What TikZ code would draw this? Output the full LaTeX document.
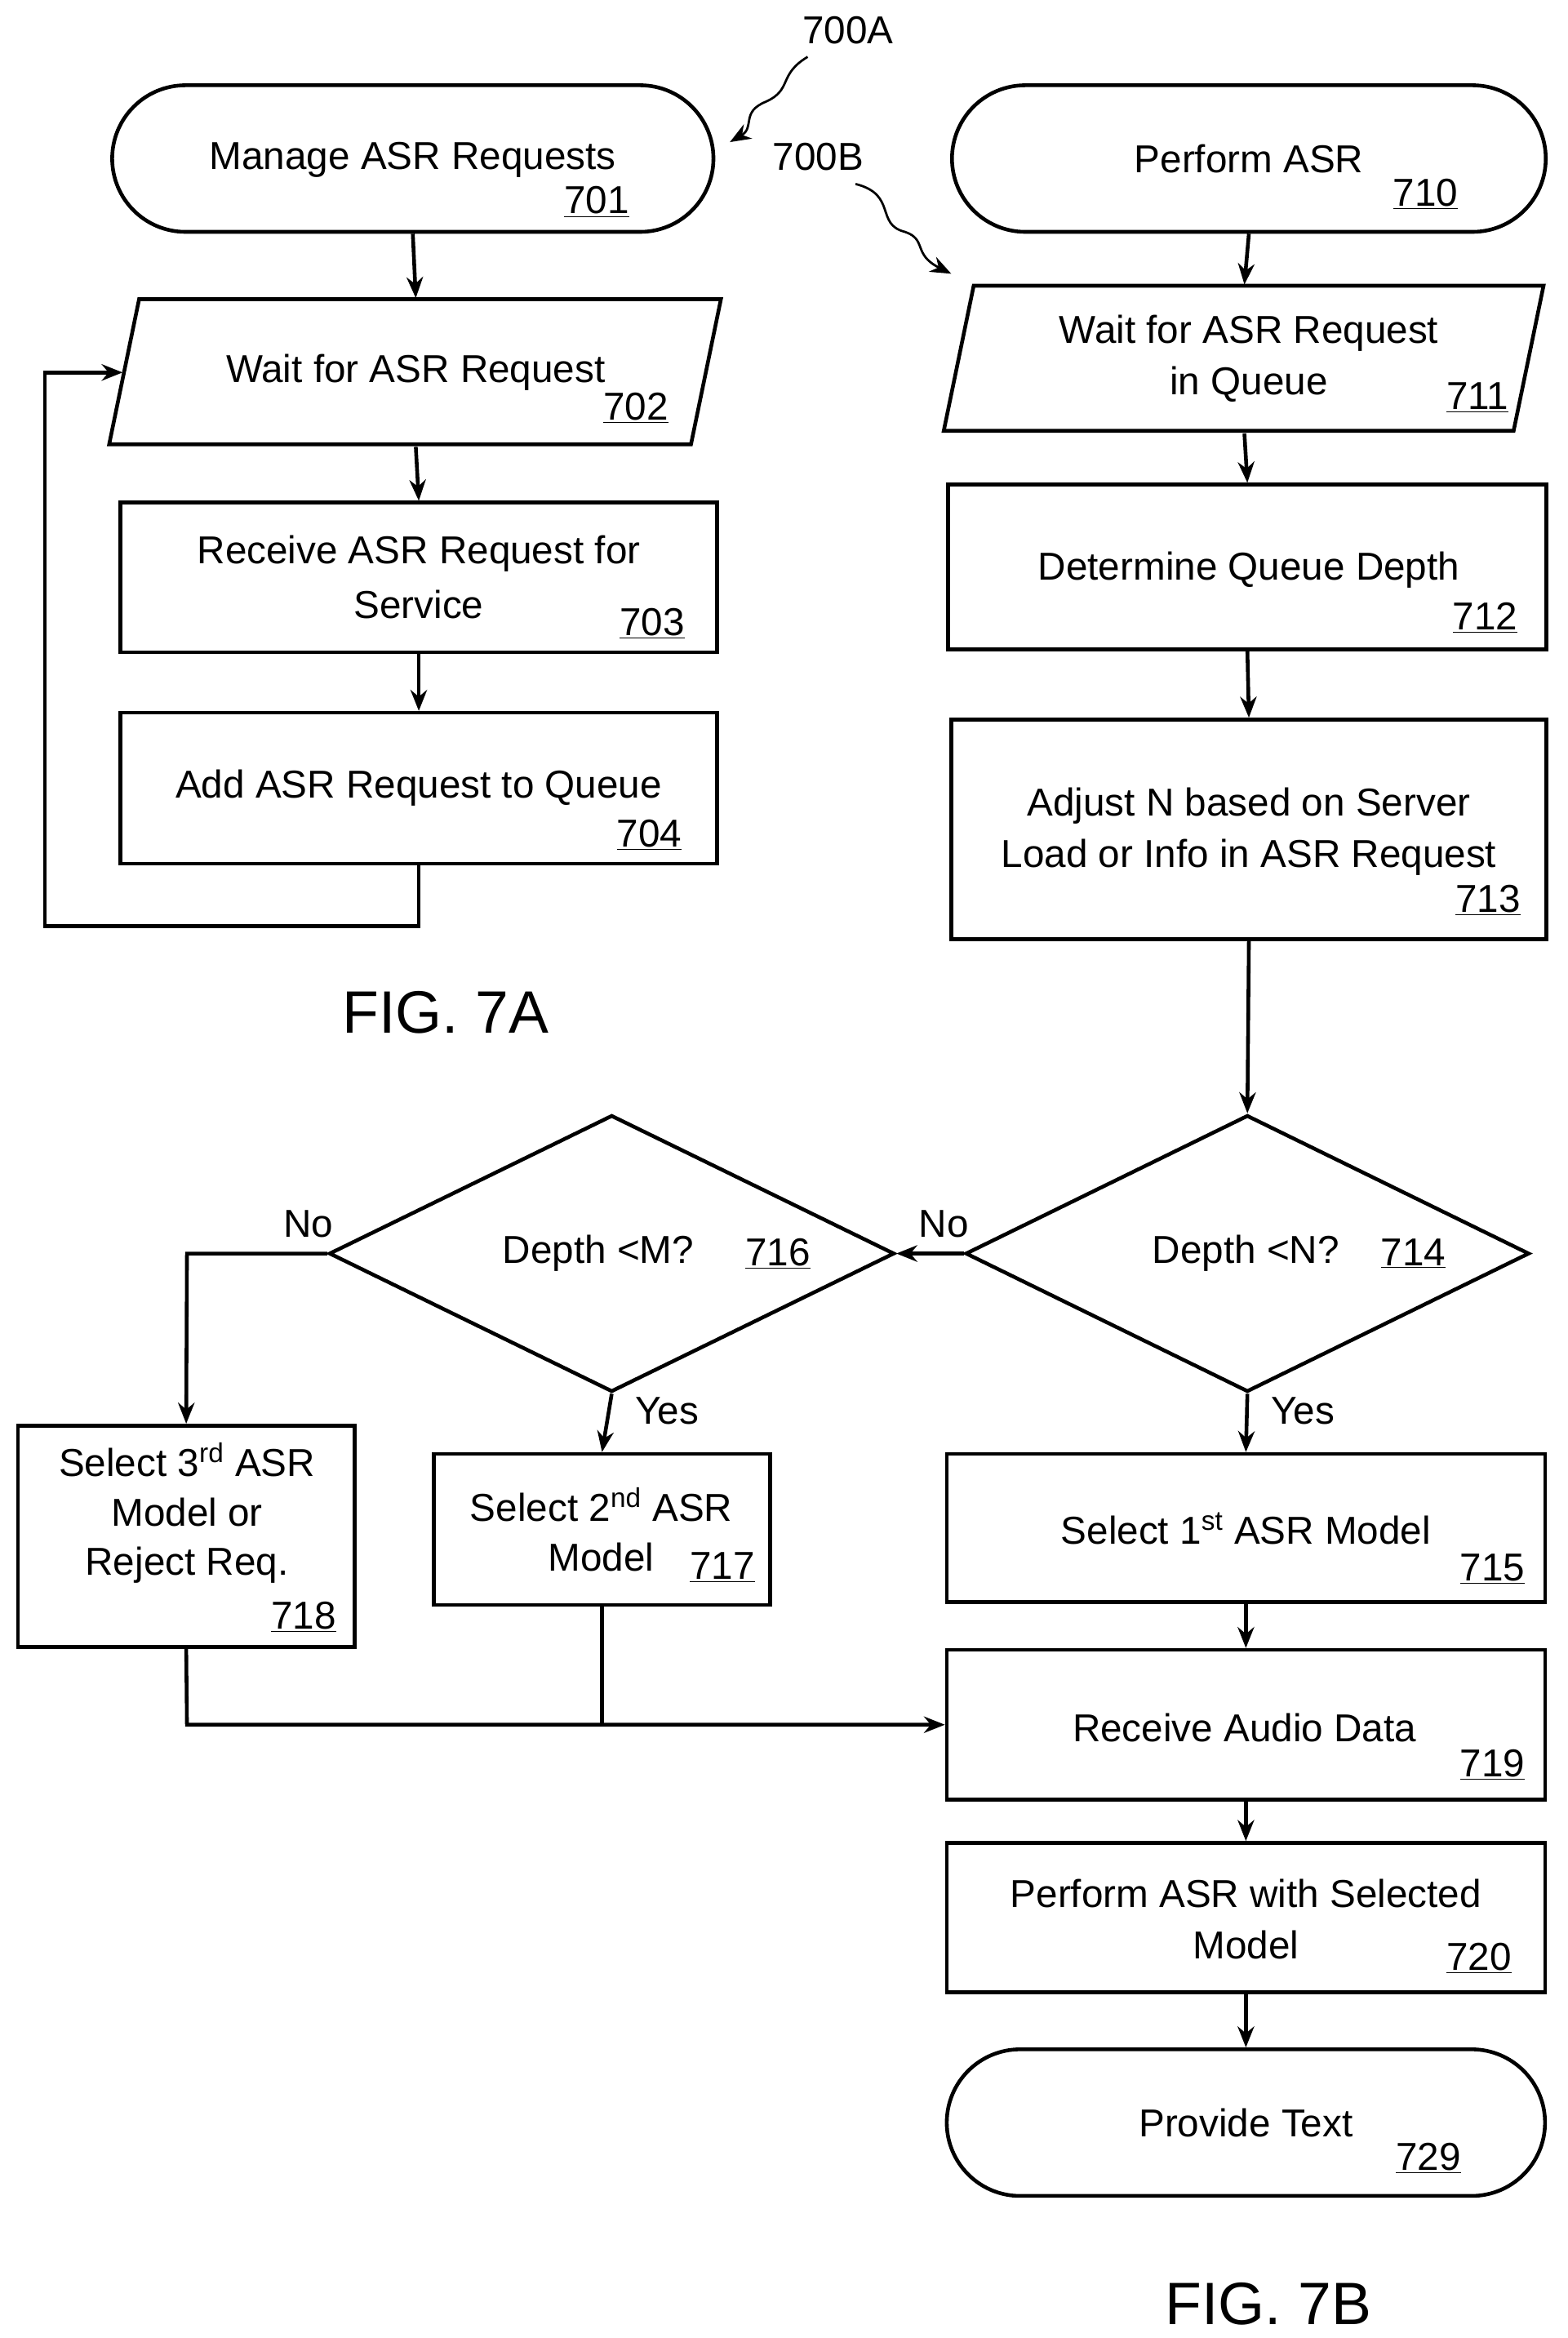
\documentclass[tikz,border=0pt]{standalone}
\usepackage{fontspec}
\setmainfont{Liberation Sans}
\usetikzlibrary{shapes.geometric,shapes.misc,arrows.meta}
\begin{document}
\begin{tikzpicture}[x=1pt,y=-1pt,line width=2.5pt,
  every node/.style={font=\fontsize{26}{31}\selectfont},
  box/.style={draw,rectangle,inner sep=0pt},
  term/.style={draw,rounded rectangle,inner sep=0pt},
  dia/.style={draw,diamond,inner sep=0pt,aspect=2},
  arr/.style={-{Stealth[length=14pt,width=11pt]}},
  num/.style={anchor=center},
  big/.style={font=\fontsize{40}{46}\selectfont}]
\useasboundingbox (0,0) rectangle (1048,1563);
% 7A
\node[term,minimum width=402pt,minimum height=98pt] (n701) at (276,106) {};
\node at (276,107) {Manage ASR Requests};
\node at (399,135) {\underline{701}};
\draw (93,200) -- (482,200) -- (462,297) -- (73,297) -- cycle;
\node[minimum width=389pt,minimum height=97pt,inner sep=0pt] (n702) at (278,249) {};
\node at (278,249) {Wait for ASR Request};
\node at (425,273) {\underline{702}};
\node[box,minimum width=399pt,minimum height=100pt] (n703) at (280,386) {};
\node at (280,370) {Receive ASR Request for};
\node at (280,404) {Service};
\node at (436,417) {\underline{703}};
\node[box,minimum width=399pt,minimum height=101pt] (n704) at (280,527) {};
\node at (280,527) {Add ASR Request to Queue};
\node at (434,558) {\underline{704}};
\draw[arr] (n701.south) -- (n702.north);
\draw[arr] (n702.south) -- (n703.north);
\draw[arr] (n703.south) -- (n704.north);
\coordinate (fb) at (82,249);
\draw[arr] (n704.south) -- (280,619) -- (30,619) -- (30,249) -- (fb);
\node[big] at (298,677) {FIG. 7A};
\node (l700a) at (567,20) {700A};
\node (l700b) at (547,105) {700B};
\draw[arr,line width=1.5pt] (540,38) .. controls (520,50) and (530,60) .. (512,68) .. controls (495,75) and (505,85) .. (488,95);
\draw[arr,line width=1.5pt] (572,123) .. controls (600,130) and (585,150) .. (605,155) .. controls (620,160) and (610,170) .. (636,183);
% 7B
\node[term,minimum width=397pt,minimum height=98pt] (n710) at (835,106) {};
\node at (835,106) {Perform ASR};
\node at (953,130) {\underline{710}};
\draw (651,191) -- (1032,191) -- (1012,288) -- (631,288) -- cycle;
\node[minimum width=381pt,minimum height=97pt,inner sep=0pt] (n711) at (832,240) {};
\node at (835,223) {Wait for ASR Request};
\node at (835,257) {in Queue};
\node at (988,266) {\underline{711}};
\node[box,minimum width=400pt,minimum height=110pt] (n712) at (834,379) {};
\node at (835,381) {Determine Queue Depth};
\node at (993,413) {\underline{712}};
\node[box,minimum width=398pt,minimum height=147pt] (n713) at (835,554.5) {};
\node at (835,539) {Adjust N based on Server};
\node at (835,573) {Load or Info in ASR Request};
\node at (995,602) {\underline{713}};
\node[dia,minimum width=377pt,minimum height=185pt] (n714) at (834,838) {};
\node at (833,838) {Depth <N?};
\node at (945,838) {\underline{714}};
\node[dia,minimum width=378pt,minimum height=185pt] (n716) at (409,838) {};
\node at (400,838) {Depth <M?};
\node at (520,838) {\underline{716}};
\node[box,minimum width=225pt,minimum height=148pt] (n718) at (124.5,1027) {};
\node at (125,976) {Select 3\textsuperscript{rd} ASR};
\node at (125,1011) {Model or};
\node at (125,1046) {Reject Req.};
\node at (203,1081) {\underline{718}};
\node[box,minimum width=225pt,minimum height=101pt] (n717) at (402.5,1022.5) {};
\node at (402,1006) {Select 2\textsuperscript{nd} ASR};
\node at (402,1041) {Model};
\node at (483,1048) {\underline{717}};
\node[box,minimum width=400pt,minimum height=99pt] (n715) at (833,1021.5) {};
\node at (833,1022) {Select 1\textsuperscript{st} ASR Model};
\node at (998,1049) {\underline{715}};
\node[box,minimum width=400pt,minimum height=100pt] (n719) at (833,1153) {};
\node at (832,1155) {Receive Audio Data};
\node at (998,1180) {\underline{719}};
\node[box,minimum width=400pt,minimum height=100pt] (n720) at (833,1282) {};
\node at (833,1266) {Perform ASR with Selected};
\node at (833,1300) {Model};
\node at (989,1309) {\underline{720}};
\node[term,minimum width=400pt,minimum height=98pt] (n729) at (833,1419) {};
\node at (833,1419) {Provide Text};
\node at (955,1443) {\underline{729}};
\node[big] at (848,1540) {FIG. 7B};
\draw[arr] (n710.south) -- (n711.north);
\draw[arr] (n711.south) -- (n712.north);
\draw[arr] (n712.south) -- (n713.north);
\draw[arr] (n713.south) -- (n714.north);
\draw[arr] (n714.west) -- (n716.east);
\node at (631,818) {No};
\draw[arr] (n716.west) -- (125,838) -- (n718.north);
\node at (206,818) {No};
\draw[arr] (n716.south) -- (n717.north);
\node at (446,943) {Yes};
\draw[arr] (n714.south) -- (n715.north);
\node at (871,943) {Yes};
\draw[arr] (n718.south) -- (125,1153) -- (n719.west);
\draw (n717.south) -- (402.5,1153);
\draw[arr] (n715.south) -- (n719.north);
\draw[arr] (n719.south) -- (n720.north);
\draw[arr] (n720.south) -- (n729.north);
\end{tikzpicture}
\end{document}
